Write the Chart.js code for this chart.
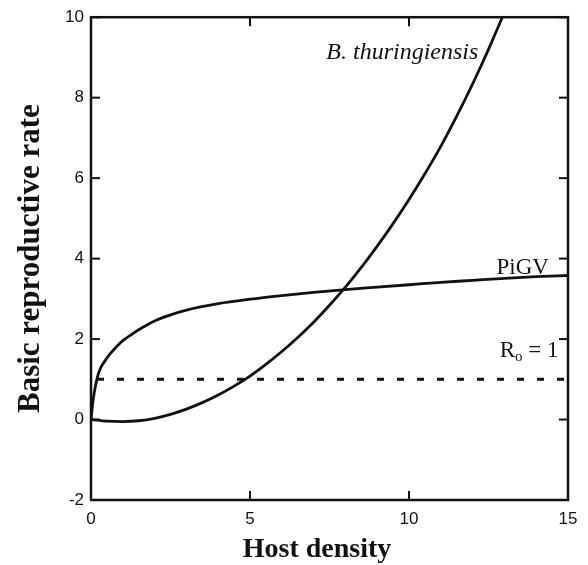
<!DOCTYPE html>
<html>
<head>
<meta charset="utf-8">
<style>
  html, body { margin: 0; padding: 0; background: #fff; }
  #wrap { width: 588px; height: 565px; }
</style>
</head>
<body>
<div id="wrap"><canvas id="chart" width="588" height="565"></canvas></div>
<script src="https://cdn.jsdelivr.net/npm/chart.js"></script>
<script>
// PiGV curve
const pigvX = [0, 0.05, 0.1, 0.2, 0.3, 0.45, 0.6, 0.8, 1, 1.25, 1.5, 2, 2.5, 3, 4, 5, 6, 7, 8, 9, 10, 11, 12, 13, 14, 15];
const pigvY = [0, 0.38, 0.66, 1.05, 1.28, 1.47, 1.63, 1.81, 1.96, 2.1, 2.23, 2.45, 2.6, 2.72, 2.88, 2.99, 3.08, 3.16, 3.23, 3.29, 3.35, 3.41, 3.46, 3.51, 3.55, 3.58];
// B. thuringiensis curve
const btX = [0, 0.5, 1, 1.5, 2, 2.5, 3, 3.5, 4, 4.5, 5, 5.5, 6, 6.5, 7, 7.5, 8, 8.5, 9, 9.5, 10, 10.5, 11, 11.5, 12, 12.5, 13];
const btY = [0, -0.04, -0.05, -0.03, 0.03, 0.13, 0.26, 0.42, 0.61, 0.83, 1.08, 1.37, 1.69, 2.04, 2.42, 2.84, 3.29, 3.78, 4.31, 4.87, 5.47, 6.11, 6.79, 7.54, 8.34, 9.2, 10.12];
// R0 = 1 threshold
const thresholdX = [0, 15];
const thresholdY = [1, 1];
const xTicks = [0, 5, 10, 15];
const yTicks = [-2, 0, 2, 4, 6, 8, 10];

const pts = (xs, ys) => xs.map((x, i) => ({ x: x, y: ys[i] }));
const ink = '#111';

const frame = {
  id: 'frame',
  afterDatasetsDraw(chart) {
    const { ctx, chartArea: a, scales: { x, y } } = chart;
    ctx.save();
    ctx.strokeStyle = ink;
    ctx.lineWidth = 2.5;
    ctx.strokeRect(a.left, a.top, a.right - a.left, a.bottom - a.top);
    ctx.lineWidth = 2;
    const seg = (x1, y1, x2, y2) => { ctx.beginPath(); ctx.moveTo(x1, y1); ctx.lineTo(x2, y2); ctx.stroke(); };
    xTicks.forEach(v => {
      const px = x.getPixelForValue(v);
      seg(px, a.bottom, px, a.bottom - 9);
      seg(px, a.top, px, a.top + 9);
    });
    yTicks.forEach(v => {
      const py = y.getPixelForValue(v);
      seg(a.left, py, a.left + 9, py);
      seg(a.right, py, a.right - 9, py);
    });

    ctx.fillStyle = ink;
    ctx.textBaseline = 'alphabetic';
    ctx.font = 'italic 24px "Liberation Serif"';
    ctx.textAlign = 'center';
    ctx.fillText('B. thuringiensis', x.getPixelForValue(9.79), y.getPixelForValue(8.97));
    ctx.font = '23px "Liberation Serif"';
    ctx.textAlign = 'right';
    ctx.fillText('PiGV', x.getPixelForValue(14.4), y.getPixelForValue(3.62));
    // R subscript o = 1
    let rx = x.getPixelForValue(12.85);
    const ry = y.getPixelForValue(1.56);
    ctx.textAlign = 'left';
    ctx.fillText('R', rx, ry);
    rx += ctx.measureText('R').width;
    ctx.font = '15px "Liberation Serif"';
    ctx.fillText('o', rx, ry + 4);
    rx += ctx.measureText('o').width;
    ctx.font = '23px "Liberation Serif"';
    ctx.fillText(' = 1', rx, ry);

    // x axis title, sits a little left of the plot centre in the original
    ctx.font = 'bold 28px "Liberation Serif"';
    ctx.textAlign = 'center';
    ctx.fillText('Host density', 317, 557);
    ctx.restore();
  }
};

new Chart(document.getElementById('chart'), {
  type: 'line',
  data: {
    datasets: [
      { label: 'PiGV', data: pts(pigvX, pigvY), borderColor: ink, borderWidth: 2.8, pointRadius: 0, cubicInterpolationMode: 'monotone' },
      { label: 'B. thuringiensis', data: pts(btX, btY), borderColor: ink, borderWidth: 2.8, pointRadius: 0, cubicInterpolationMode: 'monotone' },
      { label: 'Ro = 1', data: pts(thresholdX, thresholdY), borderColor: ink, borderWidth: 3, borderDash: [7, 13], borderDashOffset: 14, pointRadius: 0 }
    ]
  },
  options: {
    responsive: false,
    animation: false,
    layout: { padding: { top: 15, right: 20, left: 0, bottom: 0 } },
    plugins: { legend: { display: false }, tooltip: { enabled: false } },
    scales: {
      x: {
        type: 'linear', min: 0, max: 15,
        afterBuildTicks: s => { s.ticks = xTicks.map(v => ({ value: v })); },
        afterFit: s => { s.height = 65; },
        grid: { display: false, drawTicks: false },
        border: { display: false },
        ticks: { color: ink, padding: 9, maxRotation: 0, font: { family: 'Liberation Sans', size: 17 } }
      },
      y: {
        type: 'linear', min: -2, max: 10,
        afterBuildTicks: s => { s.ticks = yTicks.map(v => ({ value: v })); },
        afterFit: s => { s.width = 91; },
        grid: { display: false, drawTicks: false },
        border: { display: false },
        ticks: { color: ink, padding: 7, font: { family: 'Liberation Sans', size: 17 } },
        title: { display: true, text: 'Basic reproductive rate', color: ink, padding: { top: 12, bottom: 0 }, font: { family: 'Liberation Serif', size: 31, weight: 'bold' } }
      }
    }
  },
  plugins: [frame]
});
</script>
</body>
</html>
